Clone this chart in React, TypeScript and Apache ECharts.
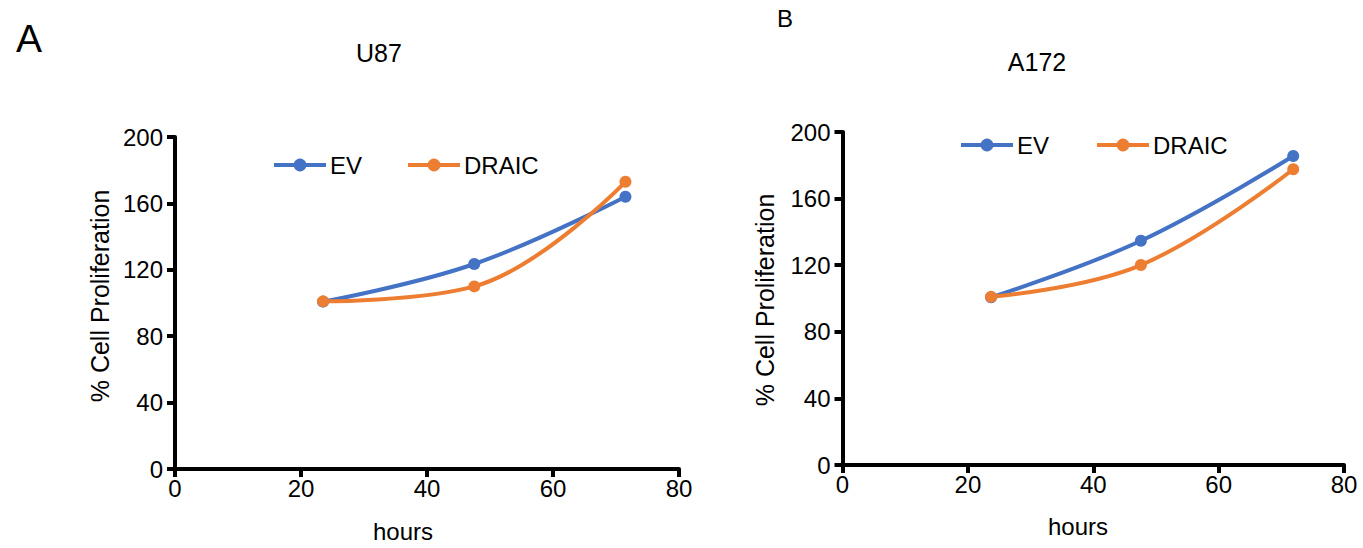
import React, { useEffect, useRef } from "react";
import * as echarts from "echarts";

const seriesNames = ["EV", "DRAIC"];
const u87Hours = [23.5, 47.5, 71.5];
const u87EV = [100.8, 123.5, 164];
const u87DRAIC = [101, 110, 173];
const a172Hours = [23.7, 47.6, 71.9];
const a172EV = [100.7, 134.7, 185.6];
const a172DRAIC = [101, 120.1, 177.6];
const yTicks = [0, 40, 80, 120, 160, 200];
const xTicks = [0, 20, 40, 60, 80];

const BLUE = "#4472C4";
const ORANGE = "#ED7D31";
const FONT = "'Liberation Sans', Arial, Helvetica, sans-serif";

function pairs(xs: number[], ys: number[]) {
  return xs.map((x, i) => [x, ys[i]]);
}

export default function App() {
  const ref = useRef<HTMLDivElement>(null);
  useEffect(() => {
    if (!ref.current) return;
    const chart = echarts.init(ref.current, null, { renderer: "svg" });
    const axisCommon = (isX: boolean) => ({
      type: "value",
      min: 0,
      max: isX ? xTicks[xTicks.length - 1] : yTicks[yTicks.length - 1],
      interval: isX ? xTicks[1] - xTicks[0] : yTicks[1] - yTicks[0],
      axisLine: { show: true, onZero: false, lineStyle: { color: "#000", width: 4 } },
      axisTick: { show: true, length: 8, lineStyle: { color: "#000", width: 4 } },
      axisLabel: {
        color: "#000",
        fontSize: 24,
        fontFamily: FONT,
        margin: isX ? 7 : 12,
      },
      splitLine: { show: false },
    });
    const lineSeries = (name: string, color: string, data: number[][], idx: number) => ({
      name,
      type: "line",
      xAxisIndex: idx,
      yAxisIndex: idx,
      data,
      smooth: 0.4,
      symbol: "circle",
      symbolSize: 12,
      lineStyle: { color, width: 4 },
      itemStyle: { color },
    });
    const textEl = (text: string, x: number, y: number, size: number, rotation = 0) => ({
      type: "text",
      x,
      y,
      rotation,
      style: {
        text,
        fontSize: size,
        fontFamily: FONT,
        fill: "#000",
        textAlign: "center",
        textVerticalAlign: "middle",
      },
    });
    const legendCommon = {
      data: seriesNames,
      orient: "horizontal",
      padding: 0,
      itemWidth: 52,
      itemHeight: 16,
      lineStyle: { width: 4 },
      textStyle: { color: "#000", fontSize: 24, fontFamily: FONT, padding: [0, 0, 0, -1] },
      selectedMode: false,
    };
    chart.setOption({
      animation: false,
      backgroundColor: "#fff",
      grid: [
        { left: 175, top: 137, width: 504, height: 332 },
        { left: 842.5, top: 132, width: 501.5, height: 333 },
      ],
      xAxis: [
        { ...axisCommon(true), gridIndex: 0 },
        { ...axisCommon(true), gridIndex: 1 },
      ],
      yAxis: [
        { ...axisCommon(false), gridIndex: 0 },
        { ...axisCommon(false), gridIndex: 1 },
      ],
      legend: [
        { ...legendCommon, left: 272, top: 153, itemGap: 44 },
        { ...legendCommon, left: 959, top: 133, itemGap: 46 },
      ],
      series: [
        lineSeries(seriesNames[0], BLUE, pairs(u87Hours, u87EV), 0),
        lineSeries(seriesNames[1], ORANGE, pairs(u87Hours, u87DRAIC), 0),
        lineSeries(seriesNames[0], BLUE, pairs(a172Hours, a172EV), 1),
        lineSeries(seriesNames[1], ORANGE, pairs(a172Hours, a172DRAIC), 1),
      ],
      graphic: [
        textEl("A", 29, 38, 39),
        textEl("U87", 379, 53, 25),
        textEl("B", 785, 18, 24),
        textEl("A172", 1037, 62, 25),
        textEl("hours", 403, 531, 24),
        textEl("hours", 1078, 526, 24),
        textEl("% Cell Proliferation", 100, 296, 25, Math.PI / 2),
        textEl("% Cell Proliferation", 765, 300, 25, Math.PI / 2),
      ],
    });
    return () => chart.dispose();
  }, []);
  return (
    <div
      ref={ref}
      style={{ position: "absolute", left: 0, top: 0, width: 1363, height: 548 }}
    />
  );
}
